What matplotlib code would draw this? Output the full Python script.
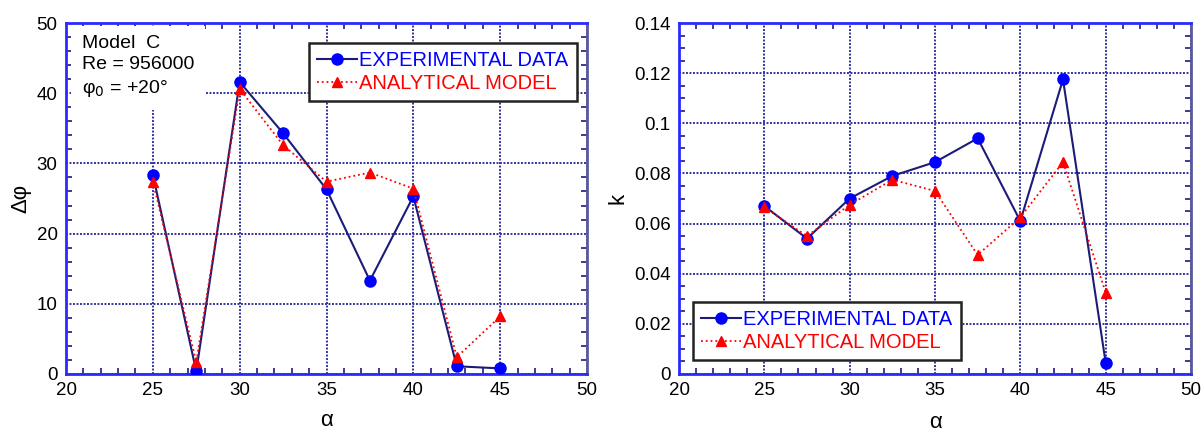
import matplotlib
matplotlib.use("Agg")
import matplotlib.pyplot as plt
from matplotlib.ticker import MultipleLocator, FuncFormatter

plt.rcParams['font.family'] = ['Liberation Sans', 'DejaVu Sans']

alpha = [25, 27.5, 30, 32.5, 35, 37.5, 40, 42.5, 45]
dphi_exp = [28.4, 0.4, 41.6, 34.3, 26.3, 13.3, 25.3, 1.1, 0.8]
dphi_model = [27.4, 1.7, 40.6, 32.6, 27.4, 28.7, 26.4, 2.4, 8.2]
k_exp = [0.067, 0.054, 0.070, 0.079, 0.0845, 0.094, 0.061, 0.1175, 0.0045]
k_model = [0.0665, 0.055, 0.0675, 0.0775, 0.073, 0.0475, 0.0625, 0.0845, 0.0325]

exp_label = "EXPERIMENTAL DATA"
model_label = "ANALYTICAL MODEL"

fig = plt.figure(figsize=(12.03, 4.33), dpi=100)
ax1 = fig.add_axes([66/1203, 1-374/433, (587-66)/1203, (374-23)/433])
ax2 = fig.add_axes([679/1203, 1-374/433, (1191-679)/1203, (374-23)/433])

grid_col = '#3434a0'
spine_col = '#2a2aff'


def style(ax, ymax, ymajor, yminor, fmt):
    ax.set_xlim(20, 50)
    ax.set_ylim(0, ymax)
    ax.xaxis.set_major_locator(MultipleLocator(5))
    ax.xaxis.set_minor_locator(MultipleLocator(1))
    ax.yaxis.set_major_locator(MultipleLocator(ymajor))
    ax.yaxis.set_minor_locator(MultipleLocator(yminor))
    ax.yaxis.set_major_formatter(FuncFormatter(fmt))
    ax.tick_params(which='both', direction='in', top=True, right=True,
                   colors='#1a1a50', labelcolor='black', labelsize=13.5)
    ax.tick_params(which='major', length=0, pad=6)
    ax.tick_params(which='minor', length=4, width=1.2, color='#1a1a80')
    ax.grid(True, which='major', color=grid_col, linestyle=(0, (1, 0.8)), linewidth=1.4)
    ax.set_axisbelow(True)
    for s in ['left', 'bottom', 'top']:
        ax.spines[s].set_color(spine_col)
        ax.spines[s].set_linewidth(2)
    ax.spines['right'].set_color('#5a5a9a')
    ax.spines['right'].set_linewidth(2)


def plot_series(ax, ye, ym):
    ax.plot(alpha, ye, '-', color='#1c1c78', lw=1.5, marker='o', markersize=8,
            markerfacecolor='blue', markeredgecolor='blue', label=exp_label, zorder=3)
    ax.plot(alpha, ym, ':', color='red', lw=1.3, marker='^', markersize=7.5,
            markerfacecolor='red', markeredgecolor='red', label=model_label, zorder=4)


def legend(ax, loc, anchor):
    h, l = ax.get_legend_handles_labels()
    leg = ax.legend(h, l, loc=loc, bbox_to_anchor=anchor, fontsize=14.5, frameon=True,
                    fancybox=False, shadow=False, edgecolor='#222222', framealpha=1,
                    handlelength=2.0, handletextpad=0.1, borderpad=0.4, labelspacing=0.2,
                    borderaxespad=0)
    leg.get_frame().set_linewidth(1.8)
    cols = ['blue', 'red']
    for t, c in zip(leg.get_texts(), cols):
        t.set_color(c)
    leg.set_zorder(10)
    return leg


style(ax1, 50, 10, 2, lambda v, p: f"{v:g}")
plot_series(ax1, dphi_exp, dphi_model)
ax1.set_xlabel('α', fontsize=16, labelpad=8)
ax1.set_ylabel('Δφ', fontsize=16, labelpad=4)
legend(ax1, 'upper left', ((309-66)/(587-66), 1-(43-23)/(374-23)))
ax1.text(0.03, 0.965, 'Model  C\nRe = 956000\nφ$_0$ = +20°', transform=ax1.transAxes,
         fontsize=14, va='top', ha='left', linespacing=1.3, zorder=5,
         bbox=dict(facecolor='white', edgecolor='none', pad=8))


def kfmt(v, p):
    if abs(v) < 1e-9:
        return "0"
    s = f"{v:.2f}"
    return s.rstrip('0') if s.endswith('0') else s


style(ax2, 0.14, 0.02, 0.005, kfmt)
plot_series(ax2, k_exp, k_model)
ax2.set_xlabel('α', fontsize=16, labelpad=9)
ax2.set_ylabel('k', fontsize=16, labelpad=4)
legend(ax2, 'upper left', ((693-679)/(1191-679), 1-(302-23)/(374-23)))

fig.savefig('out.png', dpi=100)
